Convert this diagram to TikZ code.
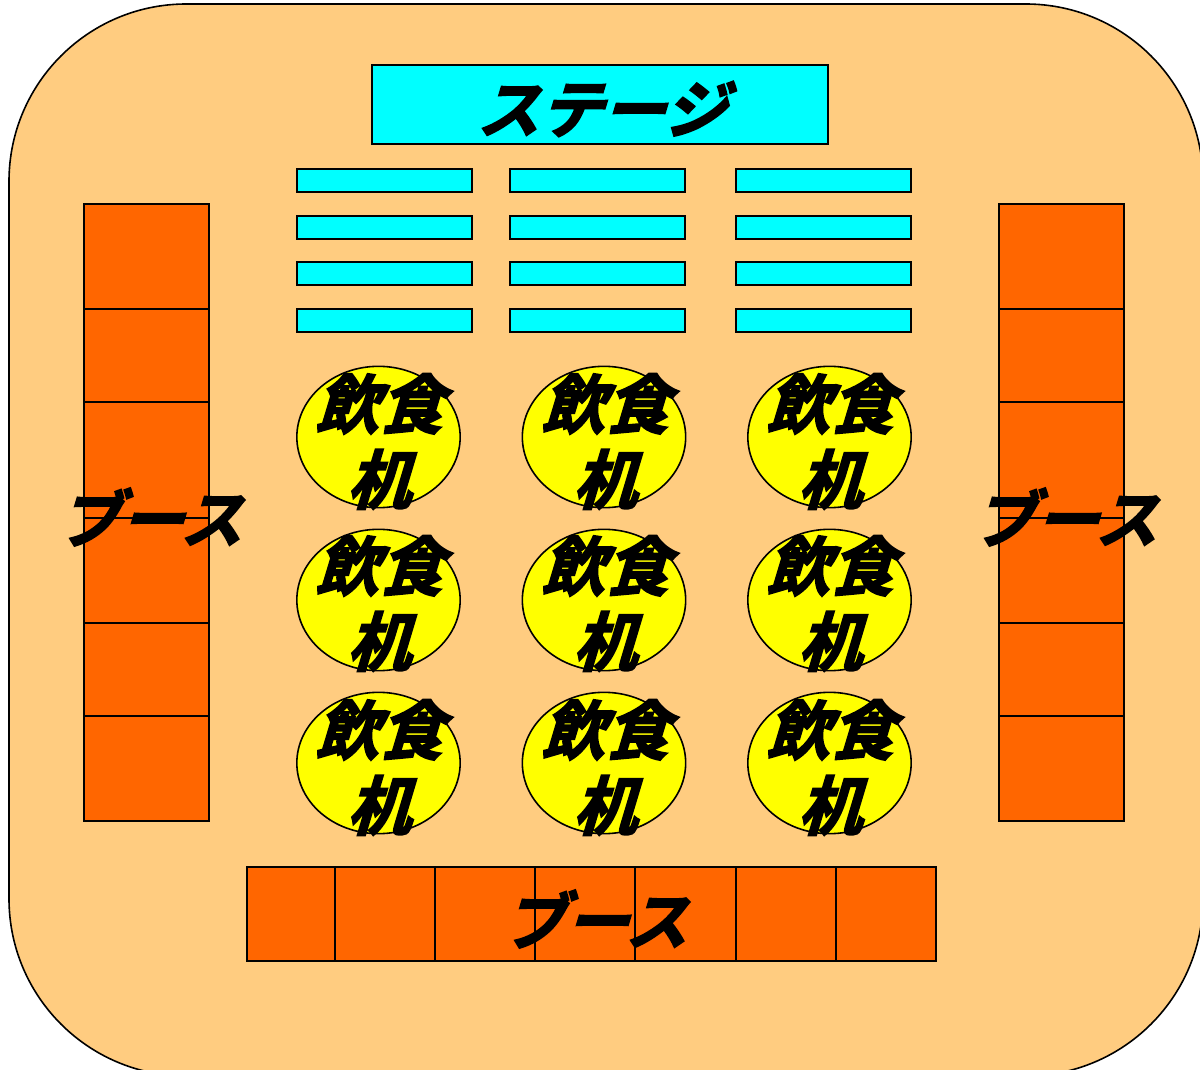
\documentclass[tikz,border=0pt]{standalone}
\usepackage{fontspec}
\newfontfamily\jpfont[BoldFont={Noto Sans CJK JP Bold},FakeSlant=0.3,FakeBold=3]{Noto Sans CJK JP Bold}
\definecolor{hall}{HTML}{FFCC80}
\definecolor{booth}{HTML}{FF6600}
\definecolor{aqua}{HTML}{00FFFF}
\definecolor{yel}{HTML}{FFFF00}
\tikzset{
 px/.style={x=0.75pt,y=-0.75pt},
 boxline/.style={draw=black,line width=1.2pt,inner sep=0pt,outer sep=0pt},
 cell/.style={boxline,fill=booth},
 bench/.style={boxline,fill=aqua,minimum width=131.25pt,minimum height=17.25pt},
 stagebox/.style={boxline,fill=aqua,minimum width=342pt,minimum height=59.25pt},
 tablenode/.style={boxline,ellipse,fill=yel,minimum width=122.5pt,minimum height=106pt},
 bigtext/.style={font=\jpfont\fontsize{47}{47}\selectfont,text=black,inner sep=0pt},
 tabletext/.style={font=\jpfont\fontsize{48}{56.5}\selectfont,text=black,inner sep=0pt,align=center},
}
\usetikzlibrary{shapes.geometric}
\begin{document}
\begin{tikzpicture}[px]
\useasboundingbox (0,0) rectangle (1200,1070);
\begin{scope}
\clip (0,0) rectangle (1200,1070);
\draw[draw=black,fill=hall,line width=1.2pt,rounded corners=133pt] (9,4) rectangle (1203,1076);
\end{scope}
% stage
\node[stagebox] (stage) at (600,104.5) {};
% benches
\foreach \c/\x in {a/384.5,b/597.5,c/823.5}
 \foreach \r/\y in {1/180.5,2/227.5,3/273.5,4/320.5}
  \node[bench] (b\c\r) at (\x,\y) {};
% tables
\foreach \c/\x in {a/378.5,b/604,c/829.5}
 \foreach \r/\y in {1/437,2/600,3/763}
  \node[tablenode] (t\c\r) at (\x,\y) {};
% left and right booths
\foreach \n/\yt/\yb in {1/204/309,2/309/402,3/402/518,4/518/623,5/623/716,6/716/821}{
 \draw[cell] (84,\yt) rectangle (209,\yb);
 \draw[cell] (999,\yt) rectangle (1124,\yb);
}
% bottom booths
\foreach \xl/\xr in {247/335,335/435,435/535,535/635,635/736,736/836,836/936}
 \draw[cell] (\xl,867) rectangle (\xr,961);
% texts
\node[bigtext] (stagetext) at (601.5,109) {ステージ};
\node[bigtext] (boothL) at (150,517) {ブース};
\node[bigtext] (boothR) at (1065,517) {ブース};
\node[bigtext] (boothB) at (595,919) {ブース};
\foreach \x in {379,605,830}
 \foreach \y in {441.5,603.5,767.5}
  \node[tabletext] at (\x,\y) {飲食\\机};
\end{tikzpicture}
\end{document}
